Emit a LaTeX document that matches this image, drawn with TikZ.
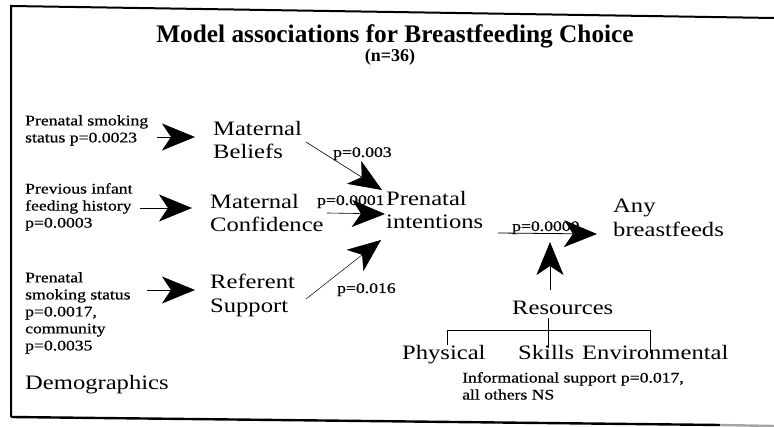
\documentclass[tikz,border=0pt]{standalone}
\usepackage{fontspec}
\setmainfont{Liberation Serif}
\newfontfamily\wideserif[FakeStretch=1.2]{Liberation Serif}
\newfontfamily\wideheavy[FakeStretch=1.2, FakeBold=0.6]{Liberation Serif}
\usetikzlibrary{arrows.meta}

\tikzset{
  big/.style={font=\wideserif\fontsize{20.5}{23.5}\selectfont, inner sep=0pt, align=left},
  small/.style={font=\wideheavy\fontsize{14.7}{17}\selectfont, inner sep=0pt, align=left},
  headline/.style={font=\bfseries\fontsize{25.3}{30}\selectfont, inner sep=0pt},
  subhead/.style={font=\bfseries\fontsize{18}{21}\selectfont, inner sep=0pt},
  fat/.style={line width=0.8pt, -{Stealth[length=33pt, width=27pt, inset=9pt]}},
  thin/.style={line width=0.7pt},
  frame/.style={line width=2pt}
}

\begin{document}
\begin{tikzpicture}[x=1pt, y=-1pt]
\useasboundingbox (0,0) rectangle (774,427);

% border of the panel
\draw[frame] (11,417) -- (11,6) -- (774,18);
\draw[line width=2.4pt] (11,417) -- (720,425);
\draw[line width=2.4pt, black!35] (720,425) -- (774,426);

% heading
\node[headline, anchor=base] (title) at (395,43) {Model associations for Breastfeeding Choice};
\node[subhead, anchor=base] (count) at (390,62) {(n=36)};

% demographic predictors
\node[small, anchor=north west] (smokeA) at (25,115) {Prenatal smoking\\status p=0.0023};
\node[small, anchor=north west] (history) at (25,183) {Previous infant\\feeding history\\p=0.0003};
\node[small, anchor=north west] (smokeB) at (25,272) {Prenatal\\smoking status\\p=0.0017,\\community\\p=0.0035};
\node[big, anchor=base west] (demo) at (25,390) {Demographics};

% maternal factors
\node[big, anchor=north west] (beliefs) at (213,121) {Maternal\\Beliefs};
\node[big, anchor=north west] (confidence) at (210,194) {Maternal\\Confidence};
\node[big, anchor=north west] (referent) at (210,274) {Referent\\Support};

% outcome chain
\node[big, anchor=north west] (intent) at (386,191) {Prenatal\\intentions};
\node[big, anchor=north west] (any) at (613,199) {Any\\breastfeeds};

% resources
\node[big, anchor=base west] (res) at (512,315) {Resources};
\node[big, anchor=base west] (phys) at (402,360) {Physical};
\node[big, anchor=base west] (skills) at (518,360) {Skills};
\node[big, anchor=base west] (env) at (582,360) {Environmental};
\node[small, anchor=north west] (info) at (462,372) {Informational support p=0.017,\\all others NS};

% arrow end points
\coordinate (a1s) at (157,137);  \coordinate (a1e) at (195,137);
\coordinate (a2s) at (140,208);  \coordinate (a2e) at (192,208);
\coordinate (a3s) at (147,290);  \coordinate (a3e) at (195,290);
\coordinate (b1s) at (306,142);  \coordinate (b1e) at (382,190);
\coordinate (b2s) at (327,213);  \coordinate (b2e) at (385,214);
\coordinate (b3s) at (306,299);  \coordinate (b3e) at (381,240);
\coordinate (cs) at (498,233);   \coordinate (ce) at (597,234);
\coordinate (rs) at (550,290);   \coordinate (re) at (550,242);

% demographics -> maternal factors
\draw[fat] (a1s) -- (a1e);
\draw[fat] (a2s) -- (a2e);
\draw[fat] (a3s) -- (a3e);

% maternal factors -> prenatal intentions
\draw[fat, line width=0.6pt] (b1s) -- (b1e);
\draw[fat, line width=0.6pt] (b2s) -- (b2e);
\draw[fat, line width=0.5pt] (b3s) -- (b3e);
\node[small, anchor=base west] (pb1) at (333,157) {p=0.003};
\node[small, anchor=base west] (pb2) at (317,205) {p=0.0001};
\node[small, anchor=base west] (pb3) at (337,293) {p=0.016};

% intentions -> breastfeeding, moderated by resources
\draw[fat] (cs) -- (ce);
\node[small, anchor=base west] (pc) at (512,231) {p=0.0000};
\draw[fat] (rs) -- (re);

% resource tree
\draw[thin] (548,318) -- (548,348);
\draw[thin] (447,345) -- (447,330) -- (650,330) -- (650,353);
\end{tikzpicture}
\end{document}
